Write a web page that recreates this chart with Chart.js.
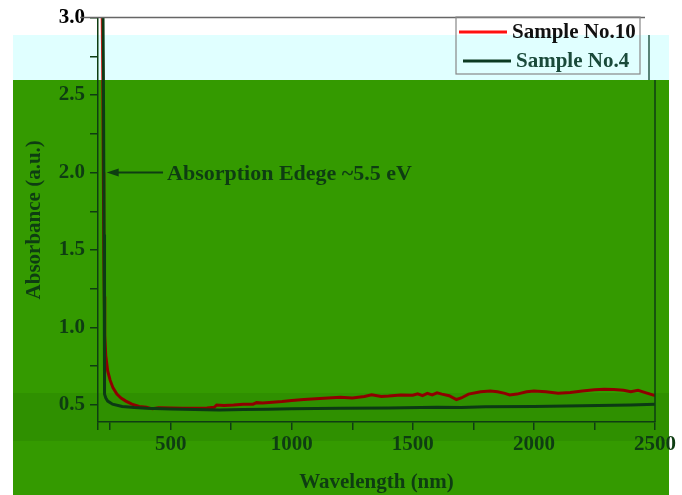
<!DOCTYPE html>
<html lang="en">
<head>
<meta charset="UTF-8">
<title>Absorbance</title>
<script src="https://cdn.jsdelivr.net/npm/chart.js"></script>
<style>
    html, body {
        margin: 0;
        padding: 0;
        background: #fff;
    }
    #chart-div {
        width: 682px;
        height: 495px;
    }
</style>
</head>
<body>
<div id="chart-div"><canvas id="chart" width="682" height="495"></canvas></div>
<script>
// Sample No.10 (red)
const wl10 = [216, 220, 222, 224, 226, 228, 232, 240, 250, 262, 278, 295, 315, 340, 370, 400, 425, 450, 500,
    550, 600, 650, 680, 690, 720, 760, 800, 840, 855, 880, 920, 960, 1000, 1050, 1100, 1150, 1200, 1250, 1300,
    1330, 1370, 1400, 1450, 1500, 1520, 1540, 1560, 1580, 1600, 1620, 1650, 1680, 1700, 1730, 1780, 1820, 1850,
    1880, 1900, 1930, 1970, 2000, 2050, 2100, 2150, 2200, 2250, 2290, 2330, 2370, 2400, 2430, 2460, 2500];
const abs10 = [3.2, 2.6, 2.0, 1.5, 1.2, 0.95, 0.82, 0.72, 0.66, 0.61, 0.57, 0.545, 0.525, 0.505, 0.49, 0.485, 0.475, 0.482, 0.48,
    0.478, 0.478, 0.48, 0.485, 0.5, 0.497, 0.5, 0.505, 0.505, 0.515, 0.512, 0.518, 0.522, 0.528, 0.535, 0.54, 0.545, 0.55, 0.545, 0.555,
    0.565, 0.555, 0.558, 0.565, 0.563, 0.572, 0.56, 0.575, 0.565, 0.578, 0.57, 0.56, 0.535, 0.545, 0.57, 0.585, 0.59, 0.585,
    0.575, 0.565, 0.57, 0.585, 0.59, 0.585, 0.575, 0.58, 0.59, 0.598, 0.602, 0.6, 0.595, 0.585, 0.595, 0.58, 0.56];

// Sample No.4 (dark)
const wl4 = [220, 223, 225, 226, 227, 228, 232, 240, 260, 300, 350, 400, 500, 600, 700, 800, 900, 1000,
    1200, 1400, 1600, 1700, 1800, 2000, 2200, 2400, 2500];
const abs4 = [3.2, 2.4, 1.6, 1.1, 0.75, 0.57, 0.545, 0.525, 0.505, 0.49, 0.483, 0.478, 0.474, 0.47, 0.468, 0.47, 0.472, 0.475,
    0.478, 0.48, 0.485, 0.483, 0.488, 0.49, 0.495, 0.5, 0.505];

const seriesNames = ['Sample No.10', 'Sample No.4'];
const xTicks = [200, 250, 500, 750, 1000, 1250, 1500, 1750, 2000, 2250, 2500];
const yTicks = [0.5, 0.75, 1.0, 1.25, 1.5, 1.75, 2.0, 2.25, 2.5, 2.75, 3.0];
const edgeText = 'Absorption Edege ~5.5 eV';
const edgeArrowFrom = [485, 2.0];
const edgeArrowTo = [236, 2.0];

const ink = '#0e3d12';
const font = 'bold 21px "Liberation Serif", "Times New Roman", serif';

const paper = {
    id: 'paper',
    beforeDraw(chart) {
        const c = chart.ctx;
        c.save();
        c.fillStyle = '#ffffff';
        c.fillRect(0, 0, chart.width, chart.height);
        c.fillStyle = '#349a00';
        c.fillRect(13, 80, 656, 415);
        c.fillStyle = '#2f9000';
        c.fillRect(13, 393, 656, 48);
        c.fillStyle = '#e0ffff';
        c.fillRect(13, 35, 656, 45);
        c.restore();
    },
    afterDatasetsDraw(chart) {
        const c = chart.ctx;
        const a = chart.chartArea;
        const x = chart.scales.x, y = chart.scales.y;
        c.save();
        // top and right frame (the right edge is offset in the cyan band)
        c.lineWidth = 1.5;
        c.strokeStyle = '#666';
        c.beginPath();
        c.moveTo(a.left - 18, a.top);
        c.lineTo(a.right - 10, a.top);
        c.stroke();
        c.strokeStyle = '#2a5a4a';
        c.beginPath();
        c.moveTo(a.right - 6, 35);
        c.lineTo(a.right - 6, 80);
        c.stroke();
        c.strokeStyle = ink;
        c.beginPath();
        c.moveTo(a.right, 80);
        c.lineTo(a.right, a.bottom);
        c.stroke();

        // absorption edge arrow
        const x0 = x.getPixelForValue(edgeArrowFrom[0]), y0 = y.getPixelForValue(edgeArrowFrom[1]);
        const x1 = x.getPixelForValue(edgeArrowTo[0]), y1 = y.getPixelForValue(edgeArrowTo[1]);
        c.strokeStyle = ink;
        c.fillStyle = ink;
        c.lineWidth = 2;
        c.beginPath();
        c.moveTo(x0 - 4, y0);
        c.lineTo(x1 + 8, y1);
        c.stroke();
        c.beginPath();
        c.moveTo(x1, y1);
        c.lineTo(x1 + 12, y1 - 4);
        c.lineTo(x1 + 12, y1 + 4);
        c.closePath();
        c.fill();
        c.font = 'bold 22px "Liberation Serif", serif';
        c.textBaseline = 'middle';
        c.textAlign = 'left';
        c.fillText(edgeText, x0, y0 + 2);

        // legend
        c.strokeStyle = '#888';
        c.lineWidth = 1.2;
        c.strokeRect(456, 17, 184, 57);
        c.font = font;
        const colors = ['#ff1010', '#0c3a22'];
        const rows = [32, 61];
        for (let i = 0; i < seriesNames.length; i++) {
            c.strokeStyle = colors[i];
            c.lineWidth = 3;
            c.beginPath();
            c.moveTo(459 + i * 4, rows[i]);
            c.lineTo(507 + i * 4, rows[i]);
            c.stroke();
            c.fillStyle = i === 0 ? '#111' : '#1a4a3a';
            c.fillText(seriesNames[i], 512 + i * 4, rows[i] + 1);
        }
        c.restore();
    }
};

function redStroke(ctx) {
    const g = ctx.chart.ctx.createLinearGradient(0, 0, 0, ctx.chart.height);
    g.addColorStop(0, '#ff1a1a');
    g.addColorStop(80 / 495, '#ff1a1a');
    g.addColorStop(80 / 495, '#8e0000');
    g.addColorStop(1, '#8e0000');
    return g;
}

const chart = new Chart(document.getElementById('chart').getContext('2d'), {
    type: 'line',
    data: {
        datasets: [
            {
                label: seriesNames[1],
                data: wl4.map((w, i) => ({x: w, y: abs4[i]})),
                borderColor: '#0c3a14',
                borderWidth: 3,
                pointRadius: 0,
                tension: 0
            },
            {
                label: seriesNames[0],
                data: wl10.map((w, i) => ({x: w, y: abs10[i]})),
                borderColor: redStroke,
                borderWidth: 3,
                pointRadius: 0,
                tension: 0
            }
        ]
    },
    options: {
        responsive: false,
        animation: false,
        layout: {padding: {left: 22, top: 14, right: 27, bottom: 0}},
        plugins: {legend: {display: false}, tooltip: {enabled: false}},
        scales: {
            x: {
                type: 'linear',
                min: 200,
                max: 2500,
                afterBuildTicks: s => { s.ticks = xTicks.map(v => ({value: v})); },
                afterFit: s => { s.height = 73; },
                border: {display: true, color: ink, width: 1.5},
                grid: {drawOnChartArea: false, tickLength: 8, color: ink, lineWidth: 1.5},
                ticks: {
                    autoSkip: false,
                    maxRotation: 0,
                    padding: 2,
                    color: ink,
                    font: {family: '"Liberation Serif", serif', size: 21, weight: 'bold'},
                    callback: v => (v % 500 === 0 ? String(v) : '')
                },
                title: {
                    display: true,
                    text: 'Wavelength (nm)',
                    color: ink,
                    padding: 0,
                    font: {family: '"Liberation Serif", serif', size: 21, weight: 'bold'}
                }
            },
            y: {
                min: 0.39,
                max: 3.0,
                afterBuildTicks: s => { s.ticks = yTicks.map(v => ({value: v})); },
                afterFit: s => { s.width = 76; },
                border: {display: true, color: ink, width: 1.5},
                grid: {drawOnChartArea: false, tickLength: 8, color: ink, lineWidth: 1.5},
                ticks: {
                    autoSkip: false,
                    padding: 5,
                    color: c => (c.tick && c.tick.value === 3 ? '#000' : ink),
                    font: {family: '"Liberation Serif", serif', size: 21, weight: 'bold'},
                    callback: v => (Math.abs(v * 2 - Math.round(v * 2)) < 1e-6 ? v.toFixed(1) : '')
                },
                title: {
                    display: true,
                    text: 'Absorbance (a.u.)',
                    color: ink,
                    padding: 0,
                    font: {family: '"Liberation Serif", serif', size: 21, weight: 'bold'}
                }
            }
        }
    },
    plugins: [paper]
});
</script>
</body>
</html>
